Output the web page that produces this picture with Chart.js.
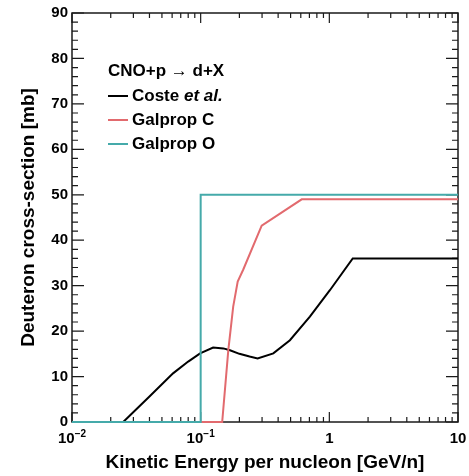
<!DOCTYPE html>
<html>
<head>
<meta charset="utf-8">
<script src="https://cdn.jsdelivr.net/npm/chart.js@4.4.0/dist/chart.umd.min.js"></script>
<style>
  html, body { margin: 0; padding: 0; background: #fff; }
</style>
</head>
<body>
<canvas id="chart" width="469" height="476"></canvas>
<script>
// Coste et al. parametrisation
const costeEnergy = [0.01, 0.025, 0.04, 0.061, 0.08, 0.099, 0.125, 0.15, 0.169, 0.2, 0.24, 0.277, 0.367, 0.494, 0.706, 1.01, 1.52, 10];
const costeXS     = [0,    0,     5.6,  10.7,  13.3, 15.1,  16.4,  16.2, 15.8,  15.0, 14.4, 14.0,  15.1,  18.0,  23.2,  29.0, 36.0, 36.0];

// Galprop C
const galpropCEnergy = [0.01, 0.147, 0.164, 0.179, 0.194, 0.214, 0.298, 0.61, 10];
const galpropCXS     = [0,    0,     15.8,  25.4,  30.9,  33.5,  43.2,  49.0, 49.0];

// Galprop O
const galpropOEnergy = [0.01, 0.1, 0.1, 10];
const galpropOXS     = [0,    0,   50,  50];

// x tick labels: base and exponent (ROOT style 10^{-2})
const xTickValues = [0.01, 0.1, 1, 10];
const xTickBase   = ['10', '10', '1', '10'];
const xTickExp    = ['\u22122', '\u22121', '', ''];
const legendHeader = 'CNO+p \u2192 d+X';

const COLORS = {
    coste: '#000000',
    galC: '#e26a6e',
    galO: '#45aaaa',
    frame: '#1a1a1a'
};

const FONT = '"Liberation Sans", Arial, Helvetica, sans-serif';

function toPoints(xs, ys) {
    return xs.map((v, i) => ({ x: v, y: ys[i] }));
}

// minor tick positions for the log axis: 1..9 x 10^n
const xMarks = [];
for (let e = -2; e <= 0; e++) {
    for (let s = 1; s <= 9; s++) xMarks.push(+(s * Math.pow(10, e)).toPrecision(3));
}
xMarks.push(10);

const rootFrame = {
    id: 'rootFrame',
    beforeDatasetsDraw(chart) {
        const { ctx, chartArea: a, scales: { x, y } } = chart;
        ctx.save();
        ctx.strokeStyle = COLORS.frame;
        ctx.lineWidth = 1.5;
        ctx.strokeRect(a.left, a.top, a.right - a.left, a.bottom - a.top);
        ctx.lineWidth = 1.2;
        ctx.beginPath();
        x.ticks.forEach(t => {
            const px = x.getPixelForValue(t.value);
            const len = xTickValues.includes(t.value) ? 10 : 5;
            ctx.moveTo(px, a.bottom); ctx.lineTo(px, a.bottom - len);
            ctx.moveTo(px, a.top); ctx.lineTo(px, a.top + len);
        });
        y.ticks.forEach(t => {
            const py = y.getPixelForValue(t.value);
            const len = t.value % 10 === 0 ? 12 : 6;
            ctx.moveTo(a.left, py); ctx.lineTo(a.left + len, py);
            ctx.moveTo(a.right, py); ctx.lineTo(a.right - len, py);
        });
        ctx.stroke();
        ctx.restore();
    },
    afterDraw(chart) {
        // decade labels with a raised exponent
        const { ctx, chartArea: a, scales: { x } } = chart;
        ctx.save();
        ctx.fillStyle = '#000';
        ctx.textBaseline = 'middle';
        ctx.textAlign = 'left';
        xTickValues.forEach((v, i) => {
            const px = x.getPixelForValue(v);
            ctx.font = 'bold 15px ' + FONT;
            const wb = ctx.measureText(xTickBase[i]).width;
            ctx.font = 'bold 10px ' + FONT;
            const we = xTickExp[i] ? ctx.measureText(xTickExp[i]).width : 0;
            const x0 = px - (wb + we) / 2;
            const yb = a.bottom + 17;
            ctx.font = 'bold 15px ' + FONT;
            ctx.fillText(xTickBase[i], x0, yb);
            if (xTickExp[i]) {
                ctx.font = 'bold 10px ' + FONT;
                ctx.fillText(xTickExp[i], x0 + wb, yb - 5);
            }
        });
        ctx.restore();
    }
};

const rootLegend = {
    id: 'rootLegend',
    afterDraw(chart) {
        const ctx = chart.ctx;
        ctx.save();
        ctx.textBaseline = 'middle';
        ctx.fillStyle = '#000';
        ctx.font = 'bold 17px ' + FONT;
        ctx.fillText(legendHeader, 108, 71);
        chart.data.datasets.forEach((ds, i) => {
            const yy = 96 + i * 24;
            ctx.strokeStyle = ds.borderColor;
            ctx.lineWidth = 2;
            ctx.beginPath();
            ctx.moveTo(108, yy);
            ctx.lineTo(128, yy);
            ctx.stroke();
            let label = ds.label;
            let italic = '';
            if (label.endsWith('et al.')) {
                italic = 'et al.';
                label = label.slice(0, -italic.length);
            }
            ctx.font = 'bold 17px ' + FONT;
            ctx.fillText(label, 132, yy);
            if (italic) {
                const w = ctx.measureText(label).width;
                ctx.font = 'italic bold 17px ' + FONT;
                ctx.fillText(italic, 132 + w, yy);
            }
        });
        ctx.restore();
    }
};

new Chart(document.getElementById('chart'), {
    type: 'line',
    data: {
        datasets: [
            {
                label: 'Coste et al.',
                data: toPoints(costeEnergy, costeXS),
                borderColor: COLORS.coste,
                borderWidth: 2,
                order: 3
            },
            {
                label: 'Galprop C',
                data: toPoints(galpropCEnergy, galpropCXS),
                borderColor: COLORS.galC,
                borderWidth: 2,
                order: 2
            },
            {
                label: 'Galprop O',
                data: toPoints(galpropOEnergy, galpropOXS),
                borderColor: COLORS.galO,
                borderWidth: 2,
                order: 1
            }
        ]
    },
    options: {
        responsive: false,
        animation: false,
        devicePixelRatio: 1,
        layout: { padding: { top: 13, right: 11, left: 0, bottom: 0 } },
        elements: {
            point: { radius: 0 },
            line: { tension: 0, fill: false }
        },
        datasets: { line: { clip: false } },
        plugins: {
            legend: { display: false },
            tooltip: { enabled: false }
        },
        scales: {
            x: {
                type: 'logarithmic',
                min: 0.01,
                max: 10,
                afterBuildTicks: scale => { scale.ticks = xMarks.map(v => ({ value: v })); },
                afterFit: scale => { scale.height = 54; },
                grid: { display: false, drawTicks: false },
                border: { display: false },
                ticks: { display: false },
                title: {
                    display: true,
                    text: 'Kinetic Energy per nucleon [GeV/n]',
                    color: '#000',
                    font: { family: FONT, size: 19, weight: 'bold', lineHeight: 1 },
                    padding: { top: 0, bottom: 4 }
                }
            },
            y: {
                min: 0,
                max: 90,
                afterFit: scale => { scale.width = 72; },
                grid: { display: false, drawTicks: false },
                border: { display: false },
                ticks: {
                    stepSize: 2,
                    autoSkip: false,
                    padding: 4,
                    color: '#000',
                    font: { family: FONT, size: 15, weight: 'bold' },
                    callback: v => (v % 10 === 0 ? String(v) : '')
                },
                title: {
                    display: true,
                    text: 'Deuteron cross-section [mb]',
                    color: '#000',
                    font: { family: FONT, size: 19, weight: 'bold', lineHeight: 1 },
                    padding: { top: 19, bottom: 0 }
                }
            }
        }
    },
    plugins: [rootFrame, rootLegend]
});
</script>
</body>
</html>
